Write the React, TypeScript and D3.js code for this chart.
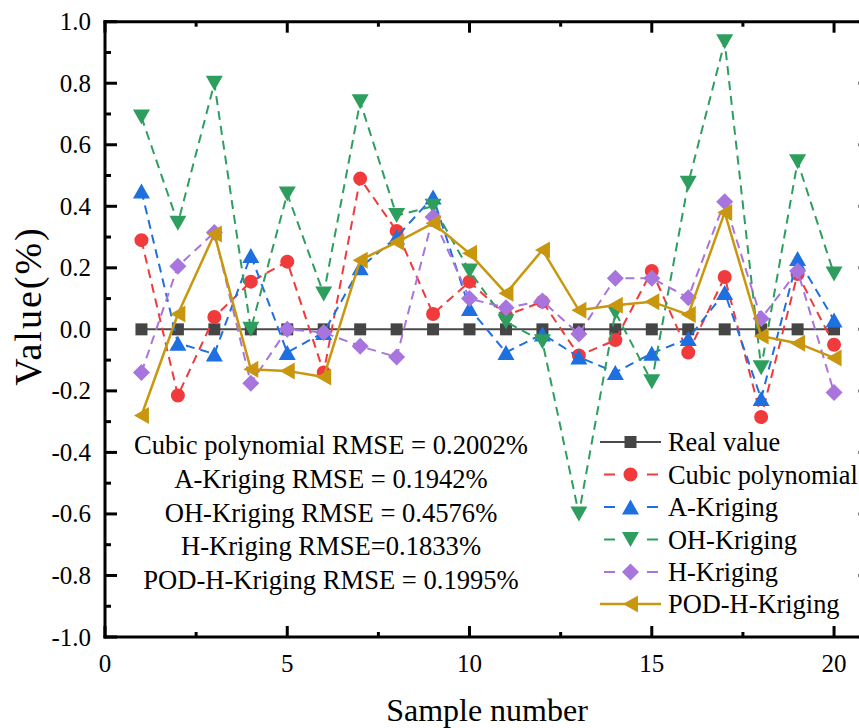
import React from "react";
import * as d3 from "d3";

// Sample numbers and per-method values (%)
const samples = d3.range(1, 21);
const realValue = samples.map(() => 0);
const cubicPolynomial = [0.29, -0.215, 0.04, 0.155, 0.22, -0.14, 0.49, 0.32, 0.05, 0.155, 0.045, 0.09, -0.085, -0.035, 0.19, -0.075, 0.17, -0.285, 0.18, -0.05];
const aKriging = [0.45, -0.045, -0.08, 0.24, -0.075, -0.01, 0.2, 0.3, 0.43, 0.068, -0.075, -0.015, -0.09, -0.14, -0.078, -0.03, 0.12, -0.225, 0.23, 0.03];
const ohKriging = [0.69, 0.345, 0.8, 0.0, 0.44, 0.115, 0.74, 0.37, 0.4, 0.19, 0.025, -0.04, -0.6, 0.055, -0.17, 0.475, 0.935, -0.125, 0.545, 0.18];
const hKriging = [-0.14, 0.205, 0.315, -0.175, 0.0, -0.01, -0.055, -0.09, 0.365, 0.1, 0.07, 0.092, -0.015, 0.166, 0.166, 0.103, 0.415, 0.035, 0.19, -0.205];
const podHKriging = [-0.28, 0.05, 0.31, -0.13, -0.135, -0.155, 0.225, 0.283, 0.345, 0.247, 0.117, 0.258, 0.062, 0.078, 0.09, 0.048, 0.38, -0.022, -0.045, -0.093];

const xTicks = [0, 5, 10, 15, 20];
const yTicks = [-1.0, -0.8, -0.6, -0.4, -0.2, 0.0, 0.2, 0.4, 0.6, 0.8, 1.0];

const rmseLines = [
  "Cubic polynomial RMSE = 0.2002%",
  "A-Kriging RMSE = 0.1942%",
  "OH-Kriging RMSE = 0.4576%",
  "H-Kriging RMSE=0.1833%",
  "POD-H-Kriging RMSE = 0.1995%",
];

type Shape = "square" | "circle" | "up" | "down" | "diamond" | "left";

const markerPath = (shape: Shape): string => {
  switch (shape) {
    case "square":
      return "M-6,-6H6V6H-6Z";
    case "circle":
      return d3.symbol(d3.symbolCircle, 154)() as string;
    case "up":
      return "M0,-7.5L8.5,7.5L-8.5,7.5Z";
    case "down":
      return "M0,7.5L8.5,-7.5L-8.5,-7.5Z";
    case "diamond":
      return "M0,-8.5L8.5,0L0,8.5L-8.5,0Z";
    case "left":
      return "M-7.5,0L7.5,-8.5L7.5,8.5Z";
  }
};

const series = [
  { name: "Real value", values: realValue, color: "#4a4a4a", marker: "#454545", shape: "square" as Shape, dashed: false, width: 2 },
  { name: "Cubic polynomial", values: cubicPolynomial, color: "#f03a3c", marker: "#f03a3c", shape: "circle" as Shape, dashed: true, width: 2 },
  { name: "A-Kriging", values: aKriging, color: "#1e6fe0", marker: "#1e6fe0", shape: "up" as Shape, dashed: true, width: 2 },
  { name: "OH-Kriging", values: ohKriging, color: "#2e9e5f", marker: "#2e9e5f", shape: "down" as Shape, dashed: true, width: 2 },
  { name: "H-Kriging", values: hKriging, color: "#a874de", marker: "#a874de", shape: "diamond" as Shape, dashed: true, width: 2 },
  { name: "POD-H-Kriging", values: podHKriging, color: "#c9970f", marker: "#c9970f", shape: "left" as Shape, dashed: false, width: 2.5 },
];

const W = 859;
const H = 728;
const left = 105;
const right = 870.5;
const top = 21.7;
const bottom = 637;
const font = '"Liberation Serif", Tinos, "Times New Roman", "DejaVu Serif", serif';

export default function App() {
  const x = d3.scaleLinear().domain([0, 21]).range([left, right]);
  const y = d3.scaleLinear().domain([-1, 1]).range([bottom, top]);

  const line = d3
    .line<number>()
    .x((_, i) => x(samples[i]))
    .y((d) => y(d));

  const xMinor = d3.range(0, 21.01, 2.5);
  const yMinor = d3.range(-1, 1.001, 0.1);

  const legendX0 = 600;
  const legendX1 = 661;
  const legendMid = 630.5;
  const legendY = [442, 474.5, 507, 539.5, 572, 604];

  return (
    <svg
      width={W}
      height={H}
      style={{ position: "absolute", left: 0, top: 0, background: "#fff", fontFamily: font }}
    >
      <rect x={0} y={0} width={W} height={H} fill="#fff" />

      {/* series lines and markers */}
      {series.map((s) => (
        <g key={s.name}>
          <path
            d={line(s.values) as string}
            fill="none"
            stroke={s.color}
            strokeWidth={s.width}
            strokeDasharray={s.dashed ? "9,6" : undefined}
          />
          {s.values.map((v, i) => (
            <path
              key={i}
              d={markerPath(s.shape)}
              transform={`translate(${x(samples[i])},${y(v)})`}
              fill={s.marker}
            />
          ))}
        </g>
      ))}

      {/* frame */}
      <g stroke="#000" strokeWidth={3} fill="none">
        <line x1={left} x2={left} y1={top - 1.5} y2={bottom + 1.5} />
        <line x1={right} x2={right} y1={top - 1.5} y2={bottom + 1.5} />
        <line x1={left - 1.5} x2={right + 1.5} y1={top} y2={top} />
        <line x1={left - 1.5} x2={right + 1.5} y1={bottom} y2={bottom} />
      </g>

      {/* ticks, pointing inward on all four sides */}
      <g stroke="#000" strokeWidth={3}>
        {xMinor.map((t) => {
          const major = Math.abs(t % 5) < 1e-6;
          const len = major ? 11 : 5;
          return (
            <g key={`xt${t}`}>
              <line x1={x(t)} x2={x(t)} y1={bottom} y2={bottom - len} />
              <line x1={x(t)} x2={x(t)} y1={top} y2={top + len} />
            </g>
          );
        })}
        {yMinor.map((t, i) => {
          const major = i % 2 === 0;
          const len = major ? 12 : 6;
          return (
            <g key={`yt${i}`}>
              <line x1={left} x2={left + len} y1={y(t)} y2={y(t)} />
              <line x1={right} x2={right - len} y1={y(t)} y2={y(t)} />
            </g>
          );
        })}
      </g>

      {/* tick labels */}
      <g fontSize={25} fill="#000">
        {xTicks.map((t) => (
          <text key={`xl${t}`} x={x(t)} y={672} textAnchor="middle">
            {t}
          </text>
        ))}
        {yTicks.map((t) => (
          <text key={`yl${t}`} x={91} y={y(t) + 8.5} textAnchor="end">
            {t.toFixed(1)}
          </text>
        ))}
      </g>

      {/* axis titles */}
      <text x={487} y={721} textAnchor="middle" fontSize={32} fill="#000">
        Sample number
      </text>
      <text
        transform={`translate(41,306) rotate(-90)`}
        textAnchor="middle"
        fontSize={38}
        letterSpacing={2}
        fill="#000"
      >
        Value(%)
      </text>

      {/* RMSE annotation */}
      <g fontSize={26.6} fill="#000" textAnchor="middle">
        {rmseLines.map((t, i) => (
          <text key={t} x={331} y={454 + i * 33.75}>
            {t}
          </text>
        ))}
      </g>

      {/* legend */}
      {series.map((s, i) => {
        const ly = legendY[i];
        return (
          <g key={`lg${s.name}`}>
            {s.dashed ? (
              <g stroke={s.color} strokeWidth={s.width}>
                <line x1={604} x2={615} y1={ly} y2={ly} />
                <line x1={647} x2={658} y1={ly} y2={ly} />
              </g>
            ) : (
              <line x1={legendX0} x2={legendX1} y1={ly} y2={ly} stroke={s.color} strokeWidth={s.width} />
            )}
            <path d={markerPath(s.shape)} transform={`translate(${legendMid},${ly})`} fill={s.marker} />
            <text x={668} y={ly + 9} fontSize={26.4} fill="#000">
              {s.name}
            </text>
          </g>
        );
      })}
    </svg>
  );
}
